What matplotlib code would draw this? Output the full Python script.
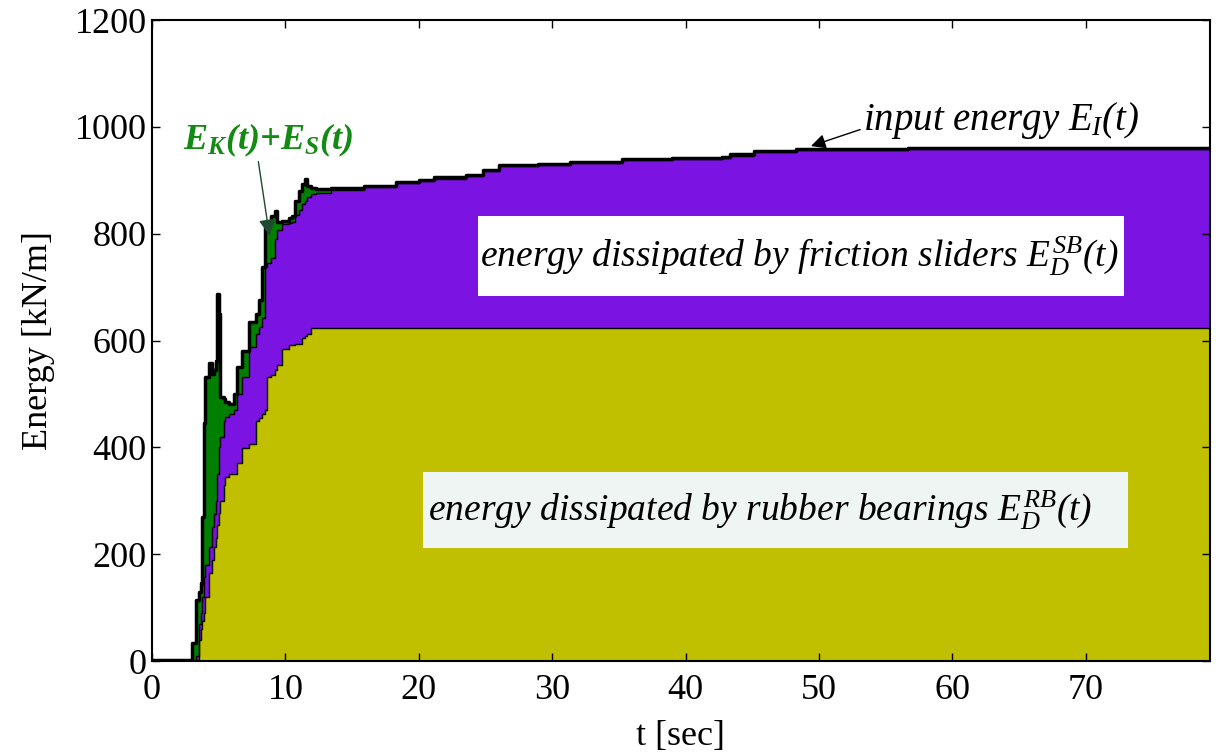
import numpy as np
import matplotlib
matplotlib.use("Agg")
import matplotlib.pyplot as plt
from matplotlib.patches import Rectangle

# energy time histories (step-like curves)
t = [0, 3.0, 3.27, 3.5, 3.65, 3.77, 3.9, 4.0, 4.27, 4.5, 4.65, 4.77, 4.9, 5.0,
     5.1, 5.4, 5.5, 5.77, 6.15, 6.4, 6.75, 7.27, 7.77, 8.0, 8.27, 8.5, 8.6, 8.9,
     9.2, 9.4, 9.77, 10.27, 10.5, 10.7, 11.0, 11.27, 11.5, 11.65, 11.9, 12.3,
     13.4, 15.9, 18.3, 20, 21.1, 23.5, 24.8, 26, 28.9, 31.3, 35.2, 39, 42.7,
     43.3, 45.1, 48.3, 56.7, 79.3]

# E_D^RB(t) - rubber bearings
rubber = [0, 0, 0, 39, 60, 75, 89, 120, 164, 190, 213, 230, 255, 277,
          300, 330, 344, 351, 351, 370, 398, 407, 450, 455, 462, 469, 531, 535,
          544, 555, 585, 591, 592, 593, 594, 604, 608, 613, 624, 624,
          624, 624, 624, 624, 624, 624, 624, 624, 624, 624, 624, 624, 624,
          624, 624, 624, 624, 624]

# E_D^RB(t) + E_D^SB(t) - total dissipated
dissipated = [0, 0, 10, 70, 90, 120, 157, 180, 213, 250, 276, 300, 350, 400,
              420, 450, 456, 462, 469, 500, 531, 587, 613, 625, 643, 737, 745, 755,
              790, 806, 818, 820, 821, 835, 845, 856, 862, 868, 875, 877,
              882, 888, 894, 898, 903, 908, 918, 926, 929, 933, 938, 940, 942,
              946, 953, 957, 959, 959]

# E_I(t) - input energy
inp = [2, 34, 114, 130, 146, 269, 445, 531, 557, 538, 545, 562, 687, 650,
       494, 490, 485, 482, 500, 550, 581, 634, 650, 675, 737, 811, 820, 834,
       843, 821, 824, 830, 834, 862, 880, 893, 902, 890, 886, 884,
       886, 890, 896, 900, 906, 910, 920, 928, 930, 934, 939, 941, 943,
       949, 955, 958, 960, 960]

plt.rcParams['font.family'] = ['Liberation Serif', 'DejaVu Serif']
plt.rcParams['mathtext.fontset'] = 'custom'
plt.rcParams['mathtext.rm'] = 'Liberation Serif:italic'
plt.rcParams['mathtext.it'] = 'Liberation Serif:italic'
plt.rcParams['mathtext.bf'] = 'Liberation Serif:bold:italic'

fig = plt.figure(figsize=(12.17, 7.55), dpi=100)
ax = fig.add_axes([0.125, 0.1245, 0.869, 0.849])

yellow = '#C0C000'
purple = '#7B14E3'
green = '#007F00'

ax.fill_between(t, 0, rubber, step='post', color=yellow, lw=0)
ax.fill_between(t, rubber, dissipated, step='post', color=purple, lw=0)
ax.fill_between(t, dissipated, inp, step='post', color=green, lw=0)
ax.step(t, rubber, where='post', color='k', lw=1)
ax.step(t, dissipated, where='post', color='k', lw=1)
ax.step(t, inp, where='post', color='k', lw=2.5)

ax.set_xlim(0, 79.3)
ax.set_ylim(0, 1200)
ax.set_xticks(np.arange(0, 80, 10))
ax.set_yticks(np.arange(0, 1201, 200))
ax.tick_params(direction='in', length=6, width=1, labelsize=26,
               top=True, right=True)
ax.tick_params(axis='x', pad=9)
ax.tick_params(axis='y', pad=4)
for s in ax.spines.values():
    s.set_linewidth(1.5)
ax.set_xlabel('t [sec]', fontsize=26, labelpad=10)
ax.set_ylabel('Energy [kN/m]', fontsize=26, labelpad=14)

# label boxes
ax.add_patch(Rectangle((24.4, 684), 48.5, 150, facecolor='white',
                       edgecolor='none', zorder=3))
ax.text(48.5, 757, r'energy dissipated by friction sliders $E_D^{SB}(t)$',
        fontsize=27, style='italic', ha='center', va='center', zorder=4)
ax.add_patch(Rectangle((20.3, 211), 52.9, 142, facecolor='#EFF5F2',
                       edgecolor='none', zorder=3))
ax.text(45.6, 282, r'energy dissipated by rubber bearings $E_D^{RB}(t)$',
        fontsize=27, style='italic', ha='center', va='center', zorder=4)

ax.annotate(r'input energy $E_I(t)$', xy=(49.4, 964), xytext=(53.3, 1012),
            fontsize=28, style='italic', ha='left', va='center',
            arrowprops=dict(arrowstyle='-|>', color='k', lw=1,
                            mutation_scale=22, shrinkA=0, shrinkB=0,
                            relpos=(0, 0.3)))
ax.annotate(r'$\mathbf{E_K(t){+}E_S(t)}$', xy=(8.8, 796), xytext=(8.7, 975),
            fontsize=26, color='#138A13', ha='center', va='center',
            arrowprops=dict(arrowstyle='-|>', color='#1E4A2E', lw=1,
                            mutation_scale=25, shrinkA=0, shrinkB=0,
                            relpos=(0.44, 0.0)))

fig.savefig('out.png', dpi=100)
